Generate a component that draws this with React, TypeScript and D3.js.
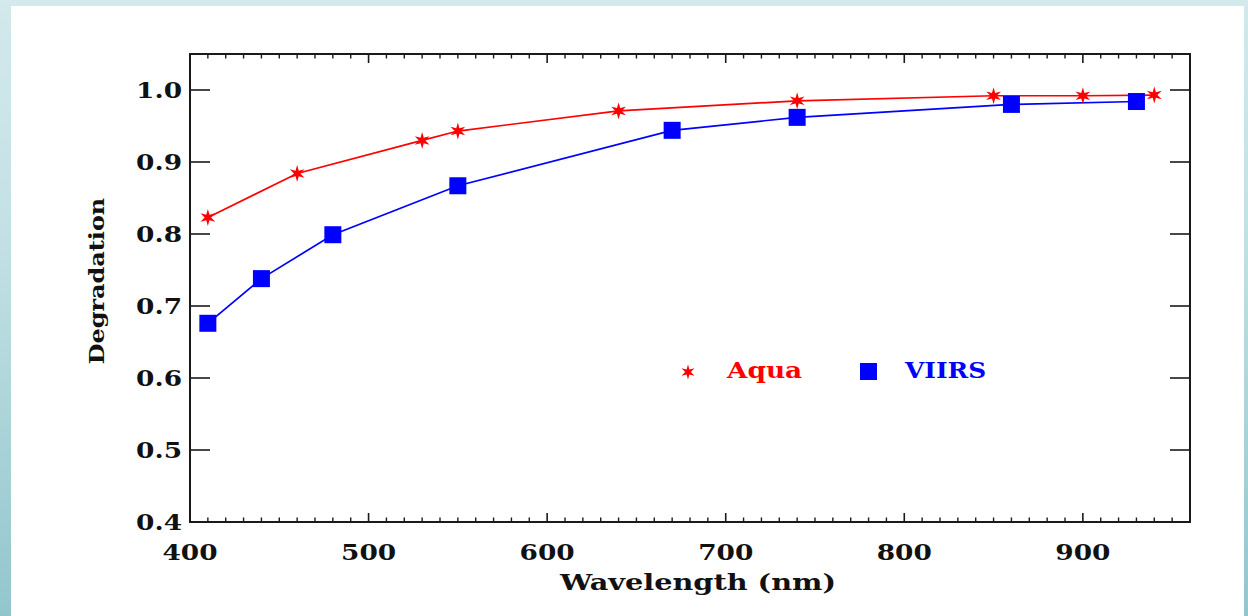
import React from "react";
import * as d3 from "d3";

const aquaWavelengths = [410, 460, 530, 550, 640, 740, 850, 900, 940];
const aquaValues = [0.823, 0.884, 0.930, 0.943, 0.971, 0.985, 0.992, 0.992, 0.993];
const viirsWavelengths = [410, 440, 480, 550, 670, 740, 860, 930];
const viirsValues = [0.676, 0.738, 0.799, 0.867, 0.944, 0.962, 0.980, 0.984];
const xMajorTicks = [400, 500, 600, 700, 800, 900];
const yTicks = [0.4, 0.5, 0.6, 0.7, 0.8, 0.9, 1.0];
const seriesNames = ["Aqua", "VIIRS"];
const xTitle = "Wavelength (nm)";
const yTitle = "Degradation";

const W = 1248;
const H = 616;
const M = { left: 190, right: 1190, top: 54, bottom: 522 };
const FONT = "'DejaVu Serif', serif";

function starPath(r: number, ri: number) {
  const pts: [number, number][] = [];
  for (let i = 0; i < 12; i++) {
    const a = (Math.PI / 6) * i - Math.PI / 2;
    const rr = i % 2 === 0 ? r : ri;
    pts.push([Math.cos(a) * rr, Math.sin(a) * rr]);
  }
  return "M" + pts.map((p) => p[0].toFixed(2) + "," + p[1].toFixed(2)).join("L") + "Z";
}

function WideText(props: {
  x: number;
  y: number;
  anchor: string;
  fill?: string;
  children: React.ReactNode;
  rotate?: boolean;
  fs?: number;
  sx?: number;
}) {
  const { x, y, anchor, fill = "#111", children, rotate, fs = 22, sx = 1.2 } = props;
  const t = rotate ? `translate(${x},${y}) rotate(-90) scale(${sx},1)` : `translate(${x},${y}) scale(${sx},1)`;
  return (
    <text transform={t} textAnchor={anchor} fontFamily={FONT} fontWeight="bold" fontSize={fs} fill={fill}>
      {children}
    </text>
  );
}

export default function App() {
  const x = d3.scaleLinear().domain([400, 960]).range([M.left, M.right]);
  const y = d3.scaleLinear().domain([0.4, 1.05]).range([M.bottom, M.top]);
  const minorTicks = d3.range(400, 961, 10).filter((v) => v % 100 !== 0);

  const line = d3
    .line<[number, number]>()
    .x((d) => x(d[0]))
    .y((d) => y(d[1]));
  const aqua: [number, number][] = aquaWavelengths.map((w, i) => [w, aquaValues[i]]);
  const viirs: [number, number][] = viirsWavelengths.map((w, i) => [w, viirsValues[i]]);
  const star = starPath(8.5, 3.2);
  const starSmall = starPath(7.5, 2.8);
  const sq = 17;
  const axisColor = "#1a1a1a";

  return (
    <svg width={W} height={H} style={{ position: "absolute", left: 0, top: 0 }}>
      <defs>
        <linearGradient id="bg" x1="0" y1="0" x2="0" y2="1">
          <stop offset="0" stopColor="#d3e9ec" />
          <stop offset="0.4" stopColor="#c2e0e4" />
          <stop offset="1" stopColor="#92c6cd" />
        </linearGradient>
      </defs>
      <rect x={0} y={0} width={W} height={H} fill="url(#bg)" />
      <rect x={11} y={6} width={1233} height={H - 6} fill="#ffffff" />

      {/* data lines */}
      <path d={line(aqua) || ""} fill="none" stroke="#ff0000" strokeWidth={1.7} />
      <path d={line(viirs) || ""} fill="none" stroke="#0000ff" strokeWidth={1.7} />
      {aqua.map((d, i) => (
        <path key={"a" + i} d={star} transform={`translate(${x(d[0])},${y(d[1])})`} fill="#ff0000" />
      ))}
      {viirs.map((d, i) => (
        <rect key={"v" + i} x={x(d[0]) - sq / 2} y={y(d[1]) - sq / 2} width={sq} height={sq} fill="#0000ff" />
      ))}

      {/* frame */}
      <rect x={M.left} y={M.top} width={M.right - M.left} height={M.bottom - M.top} fill="none" stroke={axisColor} strokeWidth={2} />

      {/* x ticks bottom & top */}
      {xMajorTicks.map((t) => (
        <g key={"xm" + t}>
          <line x1={x(t)} x2={x(t)} y1={M.bottom} y2={M.bottom - 9} stroke={axisColor} strokeWidth={1.6} />
          <line x1={x(t)} x2={x(t)} y1={M.top} y2={M.top + 9} stroke={axisColor} strokeWidth={1.6} />
          <WideText x={x(t)} y={560} anchor="middle">{String(t)}</WideText>
        </g>
      ))}
      {minorTicks.map((t) => (
        <g key={"xn" + t}>
          <line x1={x(t)} x2={x(t)} y1={M.bottom} y2={M.bottom - 4.5} stroke={axisColor} strokeWidth={1.4} />
          <line x1={x(t)} x2={x(t)} y1={M.top} y2={M.top + 4.5} stroke={axisColor} strokeWidth={1.4} />
        </g>
      ))}

      {/* y ticks left & right */}
      {yTicks.map((t) => (
        <g key={"y" + t}>
          <line x1={M.left} x2={M.left + 20} y1={y(t)} y2={y(t)} stroke={axisColor} strokeWidth={1.6} />
          <line x1={M.right} x2={M.right - 20} y1={y(t)} y2={y(t)} stroke={axisColor} strokeWidth={1.6} />
          <WideText x={182} y={y(t) + 8} anchor="end">{t.toFixed(1)}</WideText>
        </g>
      ))}

      {/* titles */}
      <WideText x={698} y={590} anchor="middle" fs={23} sx={1.25}>{xTitle}</WideText>
      <WideText x={104} y={281} anchor="middle" rotate fs={21} sx={1.14}>{yTitle}</WideText>

      {/* legend */}
      <path d={starSmall} transform="translate(688,372)" fill="#ff0000" />
      <WideText x={727} y={378} anchor="start" fill="#ff0000">{seriesNames[0]}</WideText>
      <rect x={860} y={363} width={17} height={17} fill="#0000ff" />
      <WideText x={905} y={378} anchor="start" fill="#0000ff" sx={1.13}>{seriesNames[1]}</WideText>
    </svg>
  );
}
